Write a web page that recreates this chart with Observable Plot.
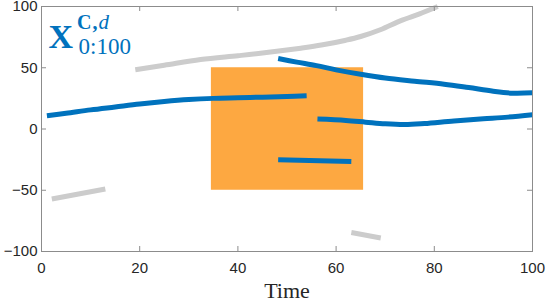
<!DOCTYPE html>
<html>
<head>
<meta charset="utf-8">
<script src="https://cdn.jsdelivr.net/npm/d3@7"></script>
<script src="https://cdn.jsdelivr.net/npm/@observablehq/plot@0.6"></script>
<style>
  html, body { margin: 0; padding: 0; background: #fff; }
  #chart svg { display: block; }
</style>
</head>
<body>
<div id="chart"></div>
<script>
// ---- data ----
const xTicks = [0, 20, 40, 60, 80, 100];
const yTicks = [-100, -50, 0, 50, 100];

// gray (context) segments
const gray1 = [[19.1,48.3],[25,52],[32.4,56.7],[40,59.8],[45,62],[52.8,66],[57,68.5],[62,72.5],[65,75.5],[69,81],[73.2,88.5],[77,94],[80.7,100]];
const gray2 = [[2.1,-57.2],[13,-49]];
const gray3 = [[63.1,-84.5],[69.1,-89]];

// blue (observed) segments
const blue1 = [[1.1,10.8],[5,12.8],[10,15.6],[15,18],[20,20.4],[25,22.4],[30,24],[35,25],[40,25.5],[45,26],[50,26.5],[54,27.1]];
const blue2 = [[48.2,57.5],[52,54.6],[56,51.7],[60,48.3],[65,44.7],[70,41.6],[76,39],[82,36.6],[87,33.8],[92,30.8],[96,29.2],[100,29.5]];
const blue3 = [[56.2,8.1],[62,7],[66,5.6],[70,4.2],[74,3.6],[78,4.5],[84,6.6],[90,8.3],[95,9.7],[100,11.6]];
const blue4 = [[48.2,-25.1],[63.1,-26.5]];

// highlighted window
const windowRect = [{x1: 34.6, x2: 65.6, y1: -50, y2: 50}];

// ---- styles ----
const BLUE = "#0072BD";
const GRAY = "#CCCCCC";
const ORANGE = "#FDA841";
const AXIS = "#8c8c8c";
const LABEL = "#262626";

const W = 548, H = 302;
const mL = 41, mR = 16, mT = 6, mB = 51;
const pw = W - mL - mR, ph = H - mT - mB;

const seg = (data, stroke) => Plot.line(data, {
  x: d => d[0], y: d => d[1], stroke, strokeWidth: 5,
  strokeLinecap: "butt", strokeLinejoin: "round", curve: "catmull-rom"
});

const serif = "'Liberation Serif', 'DejaVu Serif', serif";

const chart = Plot.plot({
  width: W, height: H,
  marginLeft: mL, marginRight: mR, marginTop: mT, marginBottom: mB,
  x: {domain: [0, 100]},
  y: {domain: [-100, 100]},
  style: {fontFamily: "'Liberation Sans', Arial, sans-serif", background: "#fff"},
  marks: [
    Plot.rect(windowRect, {x1: "x1", x2: "x2", y1: "y1", y2: "y2", fill: ORANGE}),
    seg(gray1, GRAY), seg(gray2, GRAY), seg(gray3, GRAY),
    seg(blue1, BLUE), seg(blue2, BLUE), seg(blue3, BLUE), seg(blue4, BLUE),
    // inward ticks on all four sides
    Plot.ruleX(xTicks, {x: d => d, stroke: AXIS, insetTop: ph - 5}),
    Plot.ruleX(xTicks, {x: d => d, stroke: AXIS, insetBottom: ph - 5}),
    Plot.ruleY(yTicks, {y: d => d, stroke: AXIS, insetRight: pw - 5}),
    Plot.ruleY(yTicks, {y: d => d, stroke: AXIS, insetLeft: pw - 5}),
    Plot.frame({stroke: AXIS}),
    Plot.axisX(xTicks, {anchor: "bottom", tickSize: 0, tickPadding: 11, fontSize: 15, color: LABEL, label: null}),
    Plot.axisY(yTicks, {anchor: "left", tickSize: 0, tickPadding: 4, fontSize: 15, color: LABEL, label: null}),
    // x label
    Plot.text(["Time"], {frameAnchor: "bottom", dy: 31, lineAnchor: "top", textAnchor: "middle",
      fontFamily: serif, fontSize: 22, fill: LABEL}),
    // title inside the axes
    Plot.text(["X"], {frameAnchor: "top-left", dx: 7, dy: 17, lineAnchor: "top", textAnchor: "start",
      fontFamily: serif, fontWeight: "bold", fontSize: 34, fill: BLUE}),
    Plot.text(["C"], {frameAnchor: "top-left", dx: 35.5, dy: 8.5, lineAnchor: "top", textAnchor: "start",
      fontFamily: serif, fontWeight: "bold", fontSize: 20, fill: BLUE}),
    Plot.text([","], {frameAnchor: "top-left", dx: 51, dy: 8.5, lineAnchor: "top", textAnchor: "start",
      fontFamily: serif, fontWeight: "bold", fontSize: 20, fill: BLUE}),
    Plot.text(["d"], {frameAnchor: "top-left", dx: 57, dy: 7.5, lineAnchor: "top", textAnchor: "start",
      fontFamily: serif, fontStyle: "italic", fontSize: 21, fill: BLUE}),
    Plot.text(["0:100"], {frameAnchor: "top-left", dx: 37, dy: 31, lineAnchor: "top", textAnchor: "start",
      fontFamily: serif, fontSize: 23, fill: BLUE})
  ]
});
document.getElementById("chart").append(chart);
</script>
</body>
</html>
